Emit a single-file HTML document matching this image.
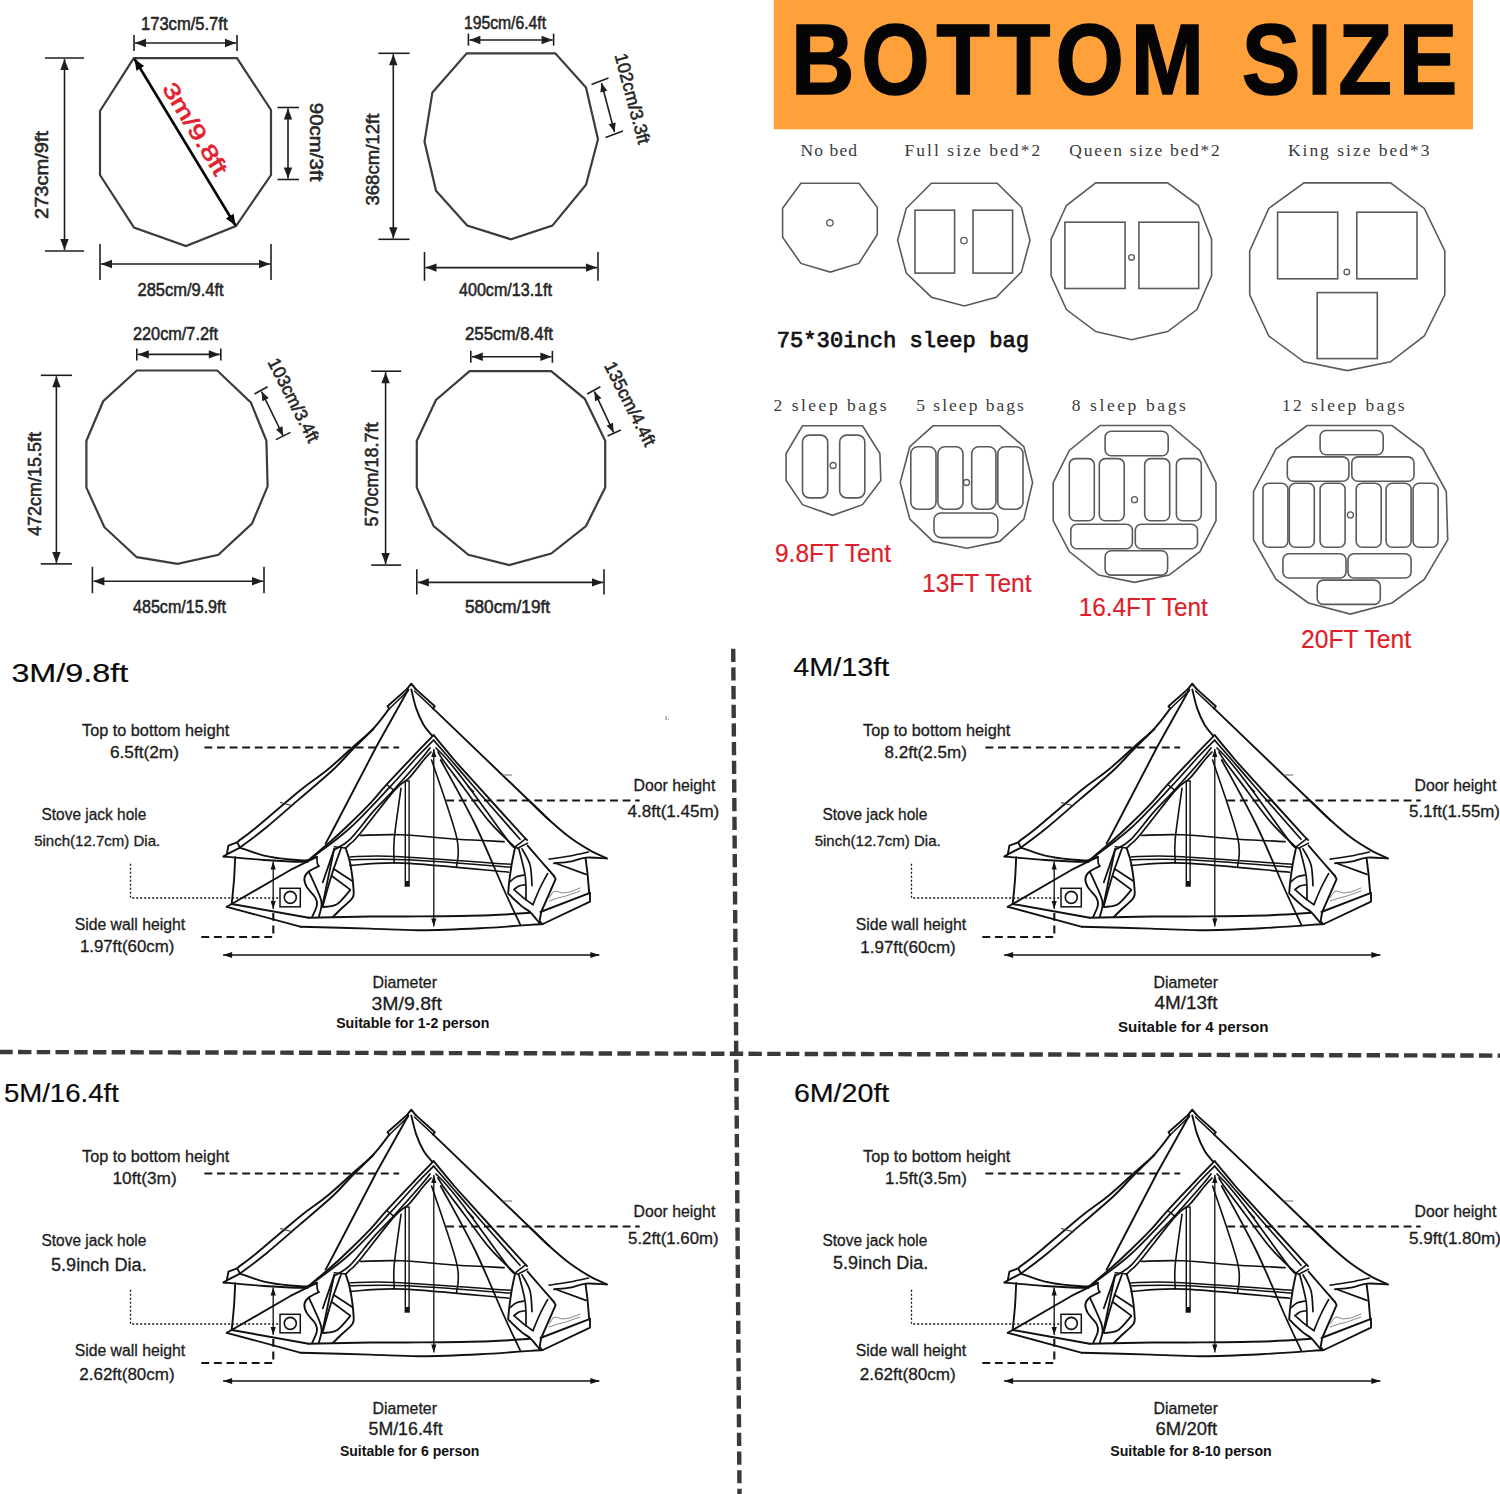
<!DOCTYPE html><html><head><meta charset="utf-8"><style>html,body{margin:0;padding:0;background:#fff;}svg{display:block;}</style></head><body>
<svg width="1500" height="1494" viewBox="0 0 1500 1494">
<rect width="1500" height="1494" fill="#fff"/>
<g fill="none" stroke-linejoin="miter">
<polygon points="133.8,58.2 237.0,58.2 271.0,110.0 271.0,175.0 236.0,226.0 186.0,246.0 134.0,227.5 100.0,175.0 100.0,111.0" stroke="#3c3c3c" stroke-width="2.2" fill="none"/>
<polygon points="466.7,53.3 555.3,53.3 586.0,87.6 598.0,139.2 586.0,184.8 552.4,225.6 510.9,239.3 467.2,225.6 436.0,190.8 424.5,141.6 432.4,92.4" stroke="#3c3c3c" stroke-width="2.2" fill="none"/>
<polygon points="136.8,370.5 217.2,370.5 250.8,402.4 266.4,440.8 267.6,486.4 252.0,523.6 218.4,554.8 177.6,563.9 136.8,557.2 104.4,527.2 86.4,487.6 86.4,440.8 103.2,401.2" stroke="#3c3c3c" stroke-width="2.2" fill="none"/>
<polygon points="469.6,371.2 551.2,371.2 584.8,398.8 605.2,440.8 605.2,487.6 586.0,526.0 551.2,553.6 509.2,565.1 468.4,554.8 433.6,526.0 416.8,487.6 416.8,440.8 436.0,400.0" stroke="#3c3c3c" stroke-width="2.2" fill="none"/>
</g>
<line x1="135" y1="43" x2="236" y2="43" stroke="#1e1e1e" stroke-width="1.6"/><polygon points="236.0,43.0 225.0,47.2 225.0,38.8" fill="#1e1e1e"/><polygon points="135.0,43.0 146.0,38.8 146.0,47.2" fill="#1e1e1e"/><line x1="134.0" y1="35.0" x2="134.0" y2="51.0" stroke="#1e1e1e" stroke-width="1.6" /><line x1="237.0" y1="35.0" x2="237.0" y2="51.0" stroke="#1e1e1e" stroke-width="1.6" />
<text x="141.0" y="30.0" font-size="18" font-family="Liberation Sans" font-weight="normal" fill="#262626" stroke="#262626" stroke-width="0.55" textLength="86.5" lengthAdjust="spacingAndGlyphs" >173cm/5.7ft</text>
<line x1="64.5" y1="59" x2="64.5" y2="250" stroke="#1e1e1e" stroke-width="1.6"/><polygon points="64.5,250.0 60.3,239.0 68.7,239.0" fill="#1e1e1e"/><polygon points="64.5,59.0 68.7,70.0 60.3,70.0" fill="#1e1e1e"/><line x1="45.0" y1="58.0" x2="84.0" y2="58.0" stroke="#1e1e1e" stroke-width="1.6" /><line x1="45.0" y1="251.0" x2="84.0" y2="251.0" stroke="#1e1e1e" stroke-width="1.6" />
<g transform="translate(41.5,175.0) rotate(-90)"><text x="-44.0" y="6.5" font-size="18" font-family="Liberation Sans" font-weight="normal" fill="#262626" stroke="#262626" stroke-width="0.55" textLength="88.0" lengthAdjust="spacingAndGlyphs">273cm/9ft</text></g>
<line x1="288" y1="108.5" x2="288" y2="178.5" stroke="#1e1e1e" stroke-width="1.6"/><polygon points="288.0,178.5 283.8,167.5 292.2,167.5" fill="#1e1e1e"/><polygon points="288.0,108.5 292.2,119.5 283.8,119.5" fill="#1e1e1e"/><line x1="277.5" y1="107.5" x2="299.0" y2="107.5" stroke="#1e1e1e" stroke-width="1.6" /><line x1="277.5" y1="179.5" x2="299.0" y2="179.5" stroke="#1e1e1e" stroke-width="1.6" />
<g transform="translate(316.0,142.0) rotate(90)"><text x="-39.2" y="6.5" font-size="18" font-family="Liberation Sans" font-weight="normal" fill="#262626" stroke="#262626" stroke-width="0.55" textLength="78.5" lengthAdjust="spacingAndGlyphs">90cm/3ft</text></g>
<line x1="101" y1="264" x2="270" y2="264" stroke="#1e1e1e" stroke-width="1.6"/><polygon points="270.0,264.0 259.0,268.2 259.0,259.8" fill="#1e1e1e"/><polygon points="101.0,264.0 112.0,259.8 112.0,268.2" fill="#1e1e1e"/><line x1="100.0" y1="244.0" x2="100.0" y2="280.0" stroke="#1e1e1e" stroke-width="1.6" /><line x1="271.0" y1="244.0" x2="271.0" y2="280.0" stroke="#1e1e1e" stroke-width="1.6" />
<text x="137.5" y="296.0" font-size="18" font-family="Liberation Sans" font-weight="normal" fill="#262626" stroke="#262626" stroke-width="0.55" textLength="86.2" lengthAdjust="spacingAndGlyphs" >285cm/9.4ft</text>
<line x1="134.5" y1="59" x2="235.5" y2="225.5" stroke="#050505" stroke-width="2.6"/><polygon points="235.5,225.5 225.9,218.4 233.6,213.8" fill="#050505"/><polygon points="134.5,59.0 144.1,66.1 136.4,70.7" fill="#050505"/>
<g transform="translate(195.5,128.5) rotate(58.7)"><text x="-52.0" y="7.9" font-size="22" font-family="Liberation Sans" font-weight="normal" fill="#e3202c" stroke="#e3202c" stroke-width="0.7" textLength="104.0" lengthAdjust="spacingAndGlyphs">3m/9.8ft</text></g>
<line x1="469.4" y1="40" x2="552.6" y2="40" stroke="#1e1e1e" stroke-width="1.6"/><polygon points="552.6,40.0 541.6,44.2 541.6,35.8" fill="#1e1e1e"/><polygon points="469.4,40.0 480.4,35.8 480.4,44.2" fill="#1e1e1e"/><line x1="468.4" y1="33.6" x2="468.4" y2="45.6" stroke="#1e1e1e" stroke-width="1.6" /><line x1="553.6" y1="33.6" x2="553.6" y2="45.6" stroke="#1e1e1e" stroke-width="1.6" />
<text x="464.0" y="28.5" font-size="18" font-family="Liberation Sans" font-weight="normal" fill="#262626" stroke="#262626" stroke-width="0.55" textLength="82.0" lengthAdjust="spacingAndGlyphs" >195cm/6.4ft</text>
<line x1="393.3" y1="54.3" x2="393.3" y2="238.3" stroke="#1e1e1e" stroke-width="1.6"/><polygon points="393.3,238.3 389.1,227.3 397.5,227.3" fill="#1e1e1e"/><polygon points="393.3,54.3 397.5,65.3 389.1,65.3" fill="#1e1e1e"/><line x1="378.4" y1="53.3" x2="409.6" y2="53.3" stroke="#1e1e1e" stroke-width="1.6" /><line x1="378.4" y1="239.3" x2="409.6" y2="239.3" stroke="#1e1e1e" stroke-width="1.6" />
<g transform="translate(372.4,159.6) rotate(-90)"><text x="-46.0" y="6.5" font-size="18" font-family="Liberation Sans" font-weight="normal" fill="#262626" stroke="#262626" stroke-width="0.55" textLength="92.0" lengthAdjust="spacingAndGlyphs">368cm/12ft</text></g>
<text x="459.0" y="296.0" font-size="18" font-family="Liberation Sans" font-weight="normal" fill="#262626" stroke="#262626" stroke-width="0.55" textLength="93.0" lengthAdjust="spacingAndGlyphs" >400cm/13.1ft</text>
<line x1="425.5" y1="267.6" x2="597" y2="267.6" stroke="#1e1e1e" stroke-width="1.6"/><polygon points="597.0,267.6 586.0,271.8 586.0,263.4" fill="#1e1e1e"/><polygon points="425.5,267.6 436.5,263.4 436.5,271.8" fill="#1e1e1e"/><line x1="424.5" y1="252.0" x2="424.5" y2="280.8" stroke="#1e1e1e" stroke-width="1.6" /><line x1="598.0" y1="252.0" x2="598.0" y2="280.8" stroke="#1e1e1e" stroke-width="1.6" />
<line x1="601.5" y1="83" x2="614.5" y2="132" stroke="#1e1e1e" stroke-width="1.6"/><polygon points="614.5,132.0 608.7,124.2 615.7,122.4" fill="#1e1e1e"/><polygon points="601.5,83.0 607.3,90.8 600.3,92.6" fill="#1e1e1e"/>
<line x1="591.5" y1="84.5" x2="608.5" y2="78.0" stroke="#1e1e1e" stroke-width="1.6" />
<line x1="605.5" y1="137.5" x2="623.0" y2="131.0" stroke="#1e1e1e" stroke-width="1.6" />
<g transform="translate(632.8,98.4) rotate(75)"><text x="-46.5" y="6.5" font-size="18" font-family="Liberation Sans" font-weight="normal" fill="#262626" stroke="#262626" stroke-width="0.55" textLength="93.0" lengthAdjust="spacingAndGlyphs">102cm/3.3ft</text></g>
<line x1="137.8" y1="354.4" x2="219.8" y2="354.4" stroke="#1e1e1e" stroke-width="1.6"/><polygon points="219.8,354.4 208.8,358.6 208.8,350.2" fill="#1e1e1e"/><polygon points="137.8,354.4 148.8,350.2 148.8,358.6" fill="#1e1e1e"/><line x1="136.8" y1="348.4" x2="136.8" y2="360.4" stroke="#1e1e1e" stroke-width="1.6" /><line x1="220.8" y1="348.4" x2="220.8" y2="360.4" stroke="#1e1e1e" stroke-width="1.6" />
<text x="133.0" y="339.5" font-size="18" font-family="Liberation Sans" font-weight="normal" fill="#262626" stroke="#262626" stroke-width="0.55" textLength="85.0" lengthAdjust="spacingAndGlyphs" >220cm/7.2ft</text>
<line x1="56.4" y1="376.3" x2="56.4" y2="562.9" stroke="#1e1e1e" stroke-width="1.6"/><polygon points="56.4,562.9 52.2,551.9 60.6,551.9" fill="#1e1e1e"/><polygon points="56.4,376.3 60.6,387.3 52.2,387.3" fill="#1e1e1e"/><line x1="40.8" y1="375.3" x2="72.0" y2="375.3" stroke="#1e1e1e" stroke-width="1.6" /><line x1="40.8" y1="563.9" x2="72.0" y2="563.9" stroke="#1e1e1e" stroke-width="1.6" />
<g transform="translate(34.8,484.0) rotate(-90)"><text x="-52.0" y="6.5" font-size="18" font-family="Liberation Sans" font-weight="normal" fill="#262626" stroke="#262626" stroke-width="0.55" textLength="104.0" lengthAdjust="spacingAndGlyphs">472cm/15.5ft</text></g>
<line x1="93.4" y1="581.2" x2="263" y2="581.2" stroke="#1e1e1e" stroke-width="1.6"/><polygon points="263.0,581.2 252.0,585.4 252.0,577.0" fill="#1e1e1e"/><polygon points="93.4,581.2 104.4,577.0 104.4,585.4" fill="#1e1e1e"/><line x1="92.4" y1="566.8" x2="92.4" y2="593.2" stroke="#1e1e1e" stroke-width="1.6" /><line x1="264.0" y1="566.8" x2="264.0" y2="593.2" stroke="#1e1e1e" stroke-width="1.6" />
<text x="133.0" y="613.0" font-size="18" font-family="Liberation Sans" font-weight="normal" fill="#262626" stroke="#262626" stroke-width="0.55" textLength="93.0" lengthAdjust="spacingAndGlyphs" >485cm/15.9ft</text>
<line x1="261.6" y1="391.6" x2="283.2" y2="436" stroke="#1e1e1e" stroke-width="1.6"/><polygon points="283.2,436.0 276.0,429.5 282.5,426.3" fill="#1e1e1e"/><polygon points="261.6,391.6 268.8,398.1 262.3,401.3" fill="#1e1e1e"/>
<line x1="254.4" y1="394.0" x2="267.6" y2="386.8" stroke="#1e1e1e" stroke-width="1.6" />
<line x1="276.0" y1="439.6" x2="290.4" y2="432.4" stroke="#1e1e1e" stroke-width="1.6" />
<g transform="translate(294.0,400.0) rotate(63)"><text x="-46.0" y="6.5" font-size="18" font-family="Liberation Sans" font-weight="normal" fill="#262626" stroke="#262626" stroke-width="0.55" textLength="92.0" lengthAdjust="spacingAndGlyphs">103cm/3.4ft</text></g>
<line x1="471.8" y1="356.8" x2="551.4" y2="356.8" stroke="#1e1e1e" stroke-width="1.6"/><polygon points="551.4,356.8 540.4,361.0 540.4,352.6" fill="#1e1e1e"/><polygon points="471.8,356.8 482.8,352.6 482.8,361.0" fill="#1e1e1e"/><line x1="470.8" y1="350.8" x2="470.8" y2="362.8" stroke="#1e1e1e" stroke-width="1.6" /><line x1="552.4" y1="350.8" x2="552.4" y2="362.8" stroke="#1e1e1e" stroke-width="1.6" />
<text x="465.0" y="339.5" font-size="18" font-family="Liberation Sans" font-weight="normal" fill="#262626" stroke="#262626" stroke-width="0.55" textLength="88.0" lengthAdjust="spacingAndGlyphs" >255cm/8.4ft</text>
<line x1="385.6" y1="372.2" x2="385.6" y2="564.1" stroke="#1e1e1e" stroke-width="1.6"/><polygon points="385.6,564.1 381.4,553.1 389.8,553.1" fill="#1e1e1e"/><polygon points="385.6,372.2 389.8,383.2 381.4,383.2" fill="#1e1e1e"/><line x1="371.2" y1="371.2" x2="401.2" y2="371.2" stroke="#1e1e1e" stroke-width="1.6" /><line x1="371.2" y1="565.1" x2="401.2" y2="565.1" stroke="#1e1e1e" stroke-width="1.6" />
<g transform="translate(371.2,474.4) rotate(-90)"><text x="-52.0" y="6.5" font-size="18" font-family="Liberation Sans" font-weight="normal" fill="#262626" stroke="#262626" stroke-width="0.55" textLength="104.0" lengthAdjust="spacingAndGlyphs">570cm/18.7ft</text></g>
<line x1="417.8" y1="582.4" x2="603" y2="582.4" stroke="#1e1e1e" stroke-width="1.6"/><polygon points="603.0,582.4 592.0,586.6 592.0,578.2" fill="#1e1e1e"/><polygon points="417.8,582.4 428.8,578.2 428.8,586.6" fill="#1e1e1e"/><line x1="416.8" y1="569.2" x2="416.8" y2="594.4" stroke="#1e1e1e" stroke-width="1.6" /><line x1="604.0" y1="569.2" x2="604.0" y2="594.4" stroke="#1e1e1e" stroke-width="1.6" />
<text x="465.0" y="613.0" font-size="18" font-family="Liberation Sans" font-weight="normal" fill="#262626" stroke="#262626" stroke-width="0.55" textLength="85.0" lengthAdjust="spacingAndGlyphs" >580cm/19ft</text>
<line x1="594.4" y1="391.6" x2="613.6" y2="432.4" stroke="#1e1e1e" stroke-width="1.6"/><polygon points="613.6,432.4 606.5,425.8 613.0,422.7" fill="#1e1e1e"/><polygon points="594.4,391.6 601.5,398.2 595.0,401.3" fill="#1e1e1e"/>
<line x1="587.2" y1="394.0" x2="600.4" y2="386.8" stroke="#1e1e1e" stroke-width="1.6" />
<line x1="607.6" y1="436.0" x2="620.8" y2="430.0" stroke="#1e1e1e" stroke-width="1.6" />
<g transform="translate(630.4,403.6) rotate(63)"><text x="-46.0" y="6.5" font-size="18" font-family="Liberation Sans" font-weight="normal" fill="#262626" stroke="#262626" stroke-width="0.55" textLength="92.0" lengthAdjust="spacingAndGlyphs">135cm/4.4ft</text></g>
<rect x="773.8" y="0" width="699.2" height="129.3" fill="#ffa13b"/>
<g transform="translate(791,94.3) scale(0.87,1)"><text x="0" y="0" font-size="101" font-family="Liberation Sans" font-weight="bold" fill="#050505" stroke="#050505" stroke-width="1.4" textLength="766" lengthAdjust="spacing">BOTTOM SIZE</text></g>
<text x="800.5" y="156.0" font-size="17.5" font-family="Liberation Serif" font-weight="normal" fill="#3a3a3a" textLength="56.5" lengthAdjust="spacing" >No bed</text>
<text x="904.5" y="156.0" font-size="17.5" font-family="Liberation Serif" font-weight="normal" fill="#3a3a3a" textLength="135.7" lengthAdjust="spacing" >Full size bed*2</text>
<text x="1069.3" y="156.0" font-size="17.5" font-family="Liberation Serif" font-weight="normal" fill="#3a3a3a" textLength="150.5" lengthAdjust="spacing" >Queen size bed*2</text>
<text x="1287.9" y="156.0" font-size="17.5" font-family="Liberation Serif" font-weight="normal" fill="#3a3a3a" textLength="141.6" lengthAdjust="spacing" >King size bed*3</text>
<polygon points="800.9,183.2 858.9,183.2 877.3,207.3 877.3,234.4 858.9,263.4 830.3,272.1 800.9,263.4 782.6,237.3 782.6,208.3" stroke="#5a5a5a" stroke-width="1.6" fill="none"/><circle cx="829.9" cy="222.8" r="3.2" fill="none" stroke="#5a5a5a" stroke-width="1.3"/>
<polygon points="931.4,183.2 997.2,183.2 1021.4,207.3 1030.0,240.2 1021.4,272.1 996.2,297.2 964.3,306.0 931.4,297.2 906.3,273.1 897.6,240.2 906.3,208.3" stroke="#5a5a5a" stroke-width="1.6" fill="none"/><rect x="915.0" y="210.2" width="39.6" height="62.9" rx="0" fill="none" stroke="#5a5a5a" stroke-width="1.6"/><rect x="973.0" y="210.2" width="39.6" height="62.9" rx="0" fill="none" stroke="#5a5a5a" stroke-width="1.6"/><circle cx="963.9" cy="240.6" r="3.2" fill="none" stroke="#5a5a5a" stroke-width="1.3"/>
<polygon points="1095.7,182.9 1167.6,182.9 1198.4,205.5 1211.6,239.2 1211.6,275.9 1196.9,309.6 1167.6,331.6 1131.5,339.8 1095.7,331.6 1066.4,309.6 1051.1,275.9 1051.1,239.2 1066.4,205.5" stroke="#5a5a5a" stroke-width="1.6" fill="none"/><rect x="1064.9" y="222.2" width="60.2" height="66.3" rx="0" fill="none" stroke="#5a5a5a" stroke-width="1.6"/><rect x="1138.9" y="222.2" width="59.8" height="66.3" rx="0" fill="none" stroke="#5a5a5a" stroke-width="1.6"/><circle cx="1131.5" cy="257.4" r="2.8" fill="none" stroke="#5a5a5a" stroke-width="1.3"/>
<polygon points="1304.0,182.9 1390.5,182.9 1424.3,208.4 1444.8,250.9 1444.8,294.9 1424.3,336.0 1390.5,361.8 1347.4,370.6 1304.0,361.8 1268.8,336.0 1249.7,294.9 1249.7,250.9 1268.8,208.4" stroke="#5a5a5a" stroke-width="1.6" fill="none"/><rect x="1277.6" y="212.2" width="60.1" height="66.6" rx="0" fill="none" stroke="#5a5a5a" stroke-width="1.6"/><rect x="1356.8" y="212.2" width="60.2" height="66.6" rx="0" fill="none" stroke="#5a5a5a" stroke-width="1.6"/><rect x="1317.2" y="292.6" width="60.1" height="66.0" rx="0" fill="none" stroke="#5a5a5a" stroke-width="1.6"/><circle cx="1346.8" cy="272.0" r="2.8" fill="none" stroke="#5a5a5a" stroke-width="1.3"/>
<text x="776.8" y="346.5" font-size="22.5" font-family="Liberation Mono" font-weight="normal" fill="#111" stroke="#111" stroke-width="0.75" textLength="252.2" lengthAdjust="spacingAndGlyphs" >75*30inch sleep bag</text>
<text x="773.5" y="411.0" font-size="17.5" font-family="Liberation Serif" font-weight="normal" fill="#3a3a3a" textLength="113.1" lengthAdjust="spacing" >2 sleep bags</text>
<text x="916.2" y="411.0" font-size="17.5" font-family="Liberation Serif" font-weight="normal" fill="#3a3a3a" textLength="107.7" lengthAdjust="spacing" >5 sleep bags</text>
<text x="1071.7" y="411.0" font-size="17.5" font-family="Liberation Serif" font-weight="normal" fill="#3a3a3a" textLength="114.1" lengthAdjust="spacing" >8 sleep bags</text>
<text x="1282.0" y="411.0" font-size="17.5" font-family="Liberation Serif" font-weight="normal" fill="#3a3a3a" textLength="122.6" lengthAdjust="spacing" >12 sleep bags</text>
<polygon points="802.5,425.8 862.5,425.8 879.9,453.5 880.8,480.5 862.5,504.7 832.5,515.3 802.5,504.7 786.1,480.5 786.1,453.5" stroke="#5a5a5a" stroke-width="1.6" fill="none"/><rect x="802.5" y="435.1" width="25.2" height="62.8" rx="7" fill="none" stroke="#5a5a5a" stroke-width="1.6"/><rect x="839.7" y="435.1" width="25.1" height="62.8" rx="7" fill="none" stroke="#5a5a5a" stroke-width="1.6"/><circle cx="833.1" cy="465.5" r="3" fill="none" stroke="#5a5a5a" stroke-width="1.3"/>
<polygon points="933.0,425.8 999.8,425.8 1023.9,446.7 1032.6,482.5 1023.9,519.2 999.8,541.4 966.9,548.2 933.0,541.4 909.8,519.2 900.2,482.5 909.8,446.7" stroke="#5a5a5a" stroke-width="1.6" fill="none"/><rect x="910.8" y="446.7" width="25.2" height="62.5" rx="7" fill="none" stroke="#5a5a5a" stroke-width="1.6"/><rect x="937.9" y="446.7" width="25.1" height="62.5" rx="7" fill="none" stroke="#5a5a5a" stroke-width="1.6"/><rect x="971.7" y="446.7" width="24.2" height="62.5" rx="7" fill="none" stroke="#5a5a5a" stroke-width="1.6"/><rect x="997.8" y="446.7" width="25.2" height="62.5" rx="7" fill="none" stroke="#5a5a5a" stroke-width="1.6"/><rect x="934.0" y="513.0" width="63.8" height="24.6" rx="7" fill="none" stroke="#5a5a5a" stroke-width="1.6"/><circle cx="966.5" cy="482.5" r="3" fill="none" stroke="#5a5a5a" stroke-width="1.3"/>
<polygon points="1100.1,425.5 1170.5,425.5 1199.9,450.4 1216.0,482.7 1216.0,520.8 1199.9,551.6 1169.1,575.1 1134.5,582.4 1098.7,575.1 1069.3,551.6 1053.2,520.8 1053.2,482.7 1069.3,450.4" stroke="#5a5a5a" stroke-width="1.6" fill="none"/><rect x="1105.1" y="431.3" width="63.1" height="24.4" rx="6" fill="none" stroke="#5a5a5a" stroke-width="1.6"/><rect x="1069.3" y="458.6" width="25.0" height="62.2" rx="6" fill="none" stroke="#5a5a5a" stroke-width="1.6"/><rect x="1099.3" y="458.6" width="24.9" height="62.2" rx="6" fill="none" stroke="#5a5a5a" stroke-width="1.6"/><rect x="1144.7" y="458.6" width="25.0" height="62.2" rx="6" fill="none" stroke="#5a5a5a" stroke-width="1.6"/><rect x="1176.4" y="458.6" width="24.9" height="62.2" rx="6" fill="none" stroke="#5a5a5a" stroke-width="1.6"/><rect x="1070.8" y="524.3" width="61.6" height="24.4" rx="6" fill="none" stroke="#5a5a5a" stroke-width="1.6"/><rect x="1135.3" y="524.3" width="62.2" height="24.4" rx="6" fill="none" stroke="#5a5a5a" stroke-width="1.6"/><rect x="1105.1" y="550.7" width="62.5" height="24.4" rx="6" fill="none" stroke="#5a5a5a" stroke-width="1.6"/><circle cx="1134.5" cy="499.7" r="3" fill="none" stroke="#5a5a5a" stroke-width="1.3"/>
<polygon points="1307.0,425.5 1392.0,425.5 1422.8,448.9 1446.3,491.5 1447.7,539.9 1424.3,579.5 1392.0,602.9 1350.4,614.1 1308.4,602.9 1276.1,579.5 1253.5,539.9 1253.5,491.5 1276.1,448.9" stroke="#5a5a5a" stroke-width="1.6" fill="none"/><rect x="1320.1" y="430.5" width="63.1" height="24.3" rx="6" fill="none" stroke="#5a5a5a" stroke-width="1.6"/><rect x="1287.3" y="456.9" width="61.6" height="24.3" rx="6" fill="none" stroke="#5a5a5a" stroke-width="1.6"/><rect x="1351.8" y="456.9" width="62.2" height="24.3" rx="6" fill="none" stroke="#5a5a5a" stroke-width="1.6"/><rect x="1262.9" y="483.3" width="25.0" height="63.9" rx="6" fill="none" stroke="#5a5a5a" stroke-width="1.6"/><rect x="1289.3" y="483.3" width="25.0" height="63.9" rx="6" fill="none" stroke="#5a5a5a" stroke-width="1.6"/><rect x="1320.1" y="483.3" width="25.0" height="63.9" rx="6" fill="none" stroke="#5a5a5a" stroke-width="1.6"/><rect x="1356.2" y="483.3" width="25.0" height="63.9" rx="6" fill="none" stroke="#5a5a5a" stroke-width="1.6"/><rect x="1386.1" y="483.3" width="25.0" height="63.9" rx="6" fill="none" stroke="#5a5a5a" stroke-width="1.6"/><rect x="1413.1" y="483.3" width="25.0" height="63.9" rx="6" fill="none" stroke="#5a5a5a" stroke-width="1.6"/><rect x="1282.9" y="553.7" width="63.1" height="24.3" rx="6" fill="none" stroke="#5a5a5a" stroke-width="1.6"/><rect x="1348.0" y="553.7" width="63.1" height="24.3" rx="6" fill="none" stroke="#5a5a5a" stroke-width="1.6"/><rect x="1317.2" y="580.1" width="63.1" height="24.3" rx="6" fill="none" stroke="#5a5a5a" stroke-width="1.6"/><circle cx="1350.4" cy="514.9" r="3" fill="none" stroke="#5a5a5a" stroke-width="1.3"/>
<text x="775.0" y="561.7" font-size="26" font-family="Liberation Sans" font-weight="normal" fill="#dc1f2b" stroke="#dc1f2b" stroke-width="0.2" textLength="116.0" lengthAdjust="spacingAndGlyphs" >9.8FT Tent</text>
<text x="922.0" y="591.7" font-size="26" font-family="Liberation Sans" font-weight="normal" fill="#dc1f2b" stroke="#dc1f2b" stroke-width="0.2" textLength="109.6" lengthAdjust="spacingAndGlyphs" >13FT Tent</text>
<text x="1078.7" y="616.1" font-size="26" font-family="Liberation Sans" font-weight="normal" fill="#dc1f2b" stroke="#dc1f2b" stroke-width="0.2" textLength="129.1" lengthAdjust="spacingAndGlyphs" >16.4FT Tent</text>
<text x="1301.1" y="648.4" font-size="26" font-family="Liberation Sans" font-weight="normal" fill="#dc1f2b" stroke="#dc1f2b" stroke-width="0.2" textLength="110.0" lengthAdjust="spacingAndGlyphs" >20FT Tent</text>
<text x="665" y="720" font-size="8" font-family="Liberation Sans" fill="#444">ı.</text>
<line x1="-0.7" y1="1052" x2="1500" y2="1055.6" stroke="#3a3a3a" stroke-width="4.4" stroke-dasharray="13.4 5.33"/>
<line x1="733.2" y1="646.7" x2="739.5" y2="1494" stroke="#3a3a3a" stroke-width="4.4" stroke-dasharray="13.2 5.47" stroke-dashoffset="-2.0"/>
<defs><g id="tent"><polyline points="407.1,688.9 411.3,683.7 415.5,688.9" fill="none" stroke="#111" stroke-width="2.0" stroke-linejoin="round" stroke-linecap="round"/><polyline points="407.1,688.9 387.5,706.3 389.3,708.7" fill="none" stroke="#111" stroke-width="1.9" stroke-linejoin="round" stroke-linecap="round"/><polyline points="408.3,690.5 389.3,708.7" fill="none" stroke="#111" stroke-width="1.5" stroke-linejoin="round" stroke-linecap="round"/><path d="M389.3,708.7 C386.6,712.0 379.3,722.4 373.3,728.7 C367.3,735.0 361.0,739.8 353.3,746.7 C345.6,753.6 336.1,762.7 327.2,770.0 C318.3,777.3 312.2,780.5 300.0,790.4 C287.8,800.3 264.1,821.0 254.0,829.3 C243.9,837.6 241.7,838.5 239.2,840.4" fill="none" stroke="#111" stroke-width="1.9" stroke-linejoin="round" stroke-linecap="round"/><polyline points="239.2,840.4 237.2,842.4 228.4,845.6 226.8,854.4 223.5,856.5" fill="none" stroke="#111" stroke-width="1.9" stroke-linejoin="round" stroke-linecap="round"/><path d="M373.5,729.0 C369.9,732.5 358.8,743.2 352.0,750.0 C345.2,756.8 341.5,761.9 332.8,770.0 C324.1,778.1 311.5,788.5 300.0,798.4 C288.5,808.3 274.0,821.1 264.0,829.3 C254.0,837.5 244.0,844.5 240.0,847.6" fill="none" stroke="#111" stroke-width="1.9" stroke-linejoin="round" stroke-linecap="round"/><polyline points="237.2,842.4 240.0,847.6" fill="none" stroke="#111" stroke-width="1.9" stroke-linejoin="round" stroke-linecap="round"/><polyline points="226.8,854.4 240.0,847.6" fill="none" stroke="#111" stroke-width="1.9" stroke-linejoin="round" stroke-linecap="round"/><polyline points="415.5,688.9 434.8,706.3 433.0,708.4" fill="none" stroke="#111" stroke-width="1.9" stroke-linejoin="round" stroke-linecap="round"/><polyline points="414.5,691.0 433.0,708.4" fill="none" stroke="#111" stroke-width="1.5" stroke-linejoin="round" stroke-linecap="round"/><polyline points="433.0,708.4 549.2,820.0" fill="none" stroke="#111" stroke-width="1.9" stroke-linejoin="round" stroke-linecap="round"/><path d="M530.0,801.5 C533.2,804.6 542.5,814.0 549.2,820.0 C555.9,826.0 563.2,832.5 570.0,837.6 C576.8,842.7 583.9,846.9 590.0,850.4 C596.1,853.9 604.0,857.1 606.8,858.4" fill="none" stroke="#111" stroke-width="1.9" stroke-linejoin="round" stroke-linecap="round"/><path d="M606.8,858.4 C603.3,858.3 592.1,857.1 586.0,857.6 C579.9,858.1 575.3,860.7 570.0,861.6 C564.7,862.5 556.7,862.9 554.0,863.2" fill="none" stroke="#111" stroke-width="1.9" stroke-linejoin="round" stroke-linecap="round"/><path d="M549.2,859.2 C552.7,858.7 563.5,857.2 570.0,856.0 C576.5,854.8 585.3,852.7 588.4,852.0" fill="none" stroke="#111" stroke-width="1.7" stroke-linejoin="round" stroke-linecap="round"/><polyline points="585.6,858.4 587.6,874.4 589.2,892.8" fill="none" stroke="#111" stroke-width="1.9" stroke-linejoin="round" stroke-linecap="round"/><polyline points="555.6,863.2 586.0,874.4" fill="none" stroke="#111" stroke-width="1.7" stroke-linejoin="round" stroke-linecap="round"/><polyline points="542.8,924.0 590.0,901.6 590.0,892.8 540.4,912.0" fill="none" stroke="#111" stroke-width="1.9" stroke-linejoin="round" stroke-linecap="round"/><polyline points="280.5,802.5 286.5,804.2 292.5,805.8" fill="none" stroke="#333" stroke-width="1.1" stroke-linejoin="round" stroke-linecap="round"/><path d="M411.3,689.5 C412.1,692.6 414.1,702.3 416.1,708.1 C418.1,713.9 420.8,719.9 423.4,724.4 C426.0,728.9 430.4,733.4 431.8,735.2" fill="none" stroke="#111" stroke-width="1.9" stroke-linejoin="round" stroke-linecap="round"/><polyline points="408.3,689.5 376.0,747.3 333.3,829.3 325.6,843.6" fill="none" stroke="#111" stroke-width="1.9" stroke-linejoin="round" stroke-linecap="round"/><path d="M433.6,735.2 C430.2,738.7 421.4,747.7 413.5,756.0 C405.6,764.3 393.5,777.0 386.3,784.9 C379.1,792.8 376.4,796.7 370.4,803.1 C364.3,809.5 356.7,817.0 350.0,823.5 C343.3,830.0 337.0,835.9 330.0,842.0 C323.0,848.1 311.7,857.3 308.0,860.4" fill="none" stroke="#111" stroke-width="1.9" stroke-linejoin="round" stroke-linecap="round"/><path d="M433.6,740.1 C431.0,742.8 425.3,748.1 418.0,756.0 C410.7,763.9 401.0,775.2 389.7,787.2 C378.4,799.2 362.8,816.3 350.0,828.0 C337.2,839.7 319.0,852.3 312.8,857.2" fill="none" stroke="#111" stroke-width="1.7" stroke-linejoin="round" stroke-linecap="round"/><path d="M430.0,748.0 C428.4,750.0 426.4,752.9 420.3,760.0 C414.2,767.1 401.0,781.9 393.1,790.6 C385.2,799.3 379.9,804.0 372.7,812.1 C365.5,820.2 356.4,833.0 350.0,839.3 C343.6,845.6 336.8,848.2 334.2,850.0" fill="none" stroke="#111" stroke-width="1.7" stroke-linejoin="round" stroke-linecap="round"/><path d="M431.0,752.0 C429.8,753.3 427.4,755.6 423.7,760.0 C420.0,764.4 413.8,773.0 408.9,778.1 C404.0,783.2 402.5,781.2 394.2,790.6 C385.9,800.0 366.5,825.9 359.1,834.8 C351.7,843.7 352.2,841.7 350.0,843.9 C347.8,846.1 346.3,847.4 345.6,848.1" fill="none" stroke="#111" stroke-width="1.7" stroke-linejoin="round" stroke-linecap="round"/><polyline points="387.4,785.0 394.2,790.6" fill="none" stroke="#111" stroke-width="1.4" stroke-linejoin="round" stroke-linecap="round"/><path d="M433.6,735.2 C437.1,739.3 447.5,752.1 454.3,760.0 C461.1,767.9 463.8,770.6 474.7,782.7 C485.6,794.8 511.3,823.1 520.0,832.6 C528.7,842.1 525.8,838.8 527.0,840.0" fill="none" stroke="#111" stroke-width="1.9" stroke-linejoin="round" stroke-linecap="round"/><path d="M433.6,740.1 C436.5,743.4 444.4,752.5 450.9,760.0 C457.4,767.5 460.9,771.8 472.4,785.0 C483.9,798.2 512.1,830.2 520.0,839.3" fill="none" stroke="#111" stroke-width="1.7" stroke-linejoin="round" stroke-linecap="round"/><path d="M436.0,748.0 C437.9,750.0 442.0,753.5 447.5,760.0 C453.0,766.5 458.8,773.6 469.0,787.2 C479.2,800.8 500.8,831.6 508.7,841.6 C516.6,851.6 515.3,846.3 516.6,847.3" fill="none" stroke="#111" stroke-width="1.7" stroke-linejoin="round" stroke-linecap="round"/><path d="M438.0,752.0 C438.8,753.3 438.8,754.1 443.0,760.0 C447.2,765.9 455.6,776.8 463.4,787.2 C471.2,797.6 481.4,812.4 490.0,822.4 C498.6,832.4 510.7,843.1 514.8,847.2" fill="none" stroke="#111" stroke-width="1.7" stroke-linejoin="round" stroke-linecap="round"/><polyline points="467.9,786.1 473.6,791.7" fill="none" stroke="#111" stroke-width="1.4" stroke-linejoin="round" stroke-linecap="round"/><polyline points="514.8,847.2 525.2,839.2" fill="none" stroke="#111" stroke-width="1.5" stroke-linejoin="round" stroke-linecap="round"/><polyline points="517.2,848.5 527.6,843.2" fill="none" stroke="#111" stroke-width="1.5" stroke-linejoin="round" stroke-linecap="round"/><path d="M514.8,848.8 C514.3,851.5 512.7,857.9 511.6,864.8 C510.5,871.7 508.7,885.3 508.4,890.4 C508.1,895.5 507.7,892.5 510.0,895.2 C512.3,897.9 518.7,903.6 522.0,906.4 C525.3,909.2 527.1,909.2 530.0,912.0 C532.9,914.8 538.0,921.3 539.6,923.2" fill="none" stroke="#111" stroke-width="1.9" stroke-linejoin="round" stroke-linecap="round"/><path d="M527.6,845.6 C529.7,848.0 535.6,854.9 540.0,860.0 C544.4,865.1 551.7,873.3 554.0,876.0" fill="none" stroke="#111" stroke-width="1.9" stroke-linejoin="round" stroke-linecap="round"/><polyline points="554.0,876.0 555.6,879.2 541.2,912.0 539.6,920.8 542.0,924.0" fill="none" stroke="#111" stroke-width="1.9" stroke-linejoin="round" stroke-linecap="round"/><path d="M518.8,848.8 C519.9,853.3 524.0,867.5 525.2,876.0 C526.4,884.5 525.9,896.0 526.0,900.0" fill="none" stroke="#111" stroke-width="1.7" stroke-linejoin="round" stroke-linecap="round"/><path d="M522.0,848.8 C523.3,851.5 528.3,858.7 530.0,864.8 C531.7,870.9 531.7,882.1 532.0,885.6" fill="none" stroke="#111" stroke-width="1.7" stroke-linejoin="round" stroke-linecap="round"/><path d="M510.0,881.6 C511.0,880.8 513.7,878.1 516.0,877.0 C518.3,875.9 522.3,875.5 523.6,875.2" fill="none" stroke="#111" stroke-width="1.7" stroke-linejoin="round" stroke-linecap="round"/><path d="M514.0,889.6 C514.8,889.0 517.3,886.8 519.0,886.0 C520.7,885.2 523.5,885.0 524.4,884.8" fill="none" stroke="#111" stroke-width="1.7" stroke-linejoin="round" stroke-linecap="round"/><path d="M514.0,889.6 C515.9,891.2 522.0,896.7 525.2,899.2 C528.4,901.7 531.9,903.9 533.2,904.8" fill="none" stroke="#111" stroke-width="1.7" stroke-linejoin="round" stroke-linecap="round"/><path d="M533.2,904.0 C534.3,901.3 537.6,893.1 540.0,888.0 C542.4,882.9 546.3,876.0 547.6,873.6" fill="none" stroke="#111" stroke-width="1.7" stroke-linejoin="round" stroke-linecap="round"/><path d="M318.8,866.1 C317.1,867.0 311.1,869.5 308.7,871.5 C306.3,873.5 304.7,875.6 304.4,878.2 C304.1,880.8 304.9,883.7 306.7,886.9 C308.5,890.1 313.7,894.5 315.4,897.6 C317.1,900.7 317.4,902.4 316.8,905.6 C316.2,908.8 312.9,915.1 312.1,917.0" fill="none" stroke="#111" stroke-width="1.9" stroke-linejoin="round" stroke-linecap="round"/><path d="M309.4,872.8 C311.2,876.8 318.1,891.4 320.1,896.9 C322.1,902.4 321.7,902.2 321.5,905.6 C321.3,909.0 319.2,915.1 318.8,917.0" fill="none" stroke="#111" stroke-width="1.8" stroke-linejoin="round" stroke-linecap="round"/><polyline points="334.2,848.7 322.1,907.0" fill="none" stroke="#111" stroke-width="1.8" stroke-linejoin="round" stroke-linecap="round"/><path d="M340.9,848.7 C339.3,853.2 334.5,866.0 331.5,875.5 C328.5,885.0 324.2,900.9 322.8,906.0" fill="none" stroke="#111" stroke-width="1.8" stroke-linejoin="round" stroke-linecap="round"/><path d="M345.6,848.1 C346.4,850.7 348.9,856.5 350.2,863.5 C351.5,870.5 353.3,884.4 353.6,890.2 C353.9,896.0 354.3,895.2 352.2,898.3 C350.1,901.4 344.1,905.9 340.9,909.0 C337.7,912.1 334.1,915.7 332.8,917.0" fill="none" stroke="#111" stroke-width="1.9" stroke-linejoin="round" stroke-linecap="round"/><polyline points="333.5,868.8 352.2,880.9" fill="none" stroke="#111" stroke-width="1.8" stroke-linejoin="round" stroke-linecap="round"/><polyline points="332.2,876.2 350.2,889.6" fill="none" stroke="#111" stroke-width="1.8" stroke-linejoin="round" stroke-linecap="round"/><path d="M323.5,907.0 C325.7,906.5 332.4,907.1 336.9,904.3 C341.3,901.5 348.0,892.6 350.2,890.2" fill="none" stroke="#111" stroke-width="1.8" stroke-linejoin="round" stroke-linecap="round"/><polyline points="322.8,882.2 334.2,849.4" fill="none" stroke="#111" stroke-width="1.8" stroke-linejoin="round" stroke-linecap="round"/><path d="M316.8,856.8 C316.9,857.9 317.1,862.0 317.4,863.5 C317.7,865.0 318.6,865.7 318.8,866.1" fill="none" stroke="#111" stroke-width="1.7" stroke-linejoin="round" stroke-linecap="round"/><path d="M334.2,846.7 L345.6,848.1" fill="none" stroke="#111" stroke-width="1.5" stroke-linejoin="round" stroke-linecap="round"/><path d="M223.5,856.5 C230.2,857.1 252.9,859.2 264.0,860.0 C275.1,860.8 282.8,861.2 290.0,861.5 C297.2,861.8 304.5,861.9 307.4,862.0" fill="none" stroke="#111" stroke-width="1.8" stroke-linejoin="round" stroke-linecap="round"/><path d="M240.0,847.6 C244.0,848.9 255.7,853.6 264.0,855.6 C272.3,857.6 282.8,858.8 290.0,859.5 C297.2,860.2 302.9,860.6 307.4,860.1 C311.9,859.6 315.2,857.3 316.8,856.8" fill="none" stroke="#111" stroke-width="1.8" stroke-linejoin="round" stroke-linecap="round"/><path d="M235.2,857.1 C235.0,860.9 234.6,872.2 234.0,880.0 C233.4,887.8 232.1,900.0 231.7,904.0" fill="none" stroke="#111" stroke-width="1.9" stroke-linejoin="round" stroke-linecap="round"/><polyline points="226.8,906.8 231.7,904.0 290.0,870.2 316.8,856.8" fill="none" stroke="#111" stroke-width="1.9" stroke-linejoin="round" stroke-linecap="round"/><polyline points="226.8,906.8 301.0,926.8" fill="none" stroke="#111" stroke-width="1.9" stroke-linejoin="round" stroke-linecap="round"/><path d="M301.0,926.8 C312.5,927.1 350.2,928.0 370.0,928.6 C389.8,929.2 401.7,930.3 420.0,930.2 C438.3,930.1 459.5,929.2 480.0,928.2 C500.5,927.2 532.3,924.7 542.8,924.0" fill="none" stroke="#111" stroke-width="1.9" stroke-linejoin="round" stroke-linecap="round"/><polyline points="231.7,904.0 308.7,917.7" fill="none" stroke="#111" stroke-width="1.9" stroke-linejoin="round" stroke-linecap="round"/><path d="M308.7,917.7 C318.9,917.5 351.4,916.7 370.0,916.5 C388.6,916.3 400.0,916.6 420.0,916.4 C440.0,916.2 471.7,915.8 490.0,915.2 C508.3,914.6 523.3,913.2 530.0,912.8" fill="none" stroke="#111" stroke-width="1.9" stroke-linejoin="round" stroke-linecap="round"/><rect x="280" y="888.3" width="20.3" height="18.5" fill="none" stroke="#111" stroke-width="1.5"/><circle cx="290.3" cy="897.4" r="6" fill="none" stroke="#111" stroke-width="1.6"/><path d="M360.2,835.4 C367.0,835.3 384.8,834.1 401.0,834.8 C417.2,835.4 440.5,838.2 457.7,839.3 C474.9,840.4 496.4,841.2 504.1,841.6" fill="none" stroke="#111" stroke-width="1.6" stroke-linejoin="round" stroke-linecap="round"/><path d="M350.0,856.9 C357.6,856.8 368.5,855.2 395.3,856.4 C422.1,857.6 491.7,863.0 511.0,864.3" fill="none" stroke="#111" stroke-width="1.5" stroke-linejoin="round" stroke-linecap="round"/><path d="M350.0,859.8 C359.4,859.8 379.9,858.6 406.7,859.8 C433.5,861.0 493.6,865.9 511.0,867.1" fill="none" stroke="#111" stroke-width="1.5" stroke-linejoin="round" stroke-linecap="round"/><path d="M350.0,865.4 C358.9,865.0 376.9,862.0 403.3,863.1 C429.8,864.2 491.1,870.7 508.7,872.2" fill="none" stroke="#111" stroke-width="1.6" stroke-linejoin="round" stroke-linecap="round"/><path d="M401.0,788.3 C399.9,796.8 395.3,826.8 394.2,839.3 C393.1,851.8 394.2,859.1 394.2,863.1" fill="none" stroke="#111" stroke-width="1.6" stroke-linejoin="round" stroke-linecap="round"/><path d="M431.6,760.0 C435.8,772.9 452.4,819.3 456.6,837.1 C460.8,854.9 456.6,861.7 456.6,866.6" fill="none" stroke="#111" stroke-width="1.6" stroke-linejoin="round" stroke-linecap="round"/><rect x="405.3" y="781" width="3.8" height="105" fill="none" stroke="#111" stroke-width="1.4"/><rect x="405.3" y="881" width="3.8" height="5" fill="#111"/><path d="M440.7,760.0 C446.4,770.6 464.1,801.8 474.7,823.5 C485.3,845.2 496.5,873.1 504.1,890.0 C511.7,906.9 517.7,919.0 520.4,924.8" fill="none" stroke="#111" stroke-width="1.8" stroke-linejoin="round" stroke-linecap="round"/><line x1="433.8" y1="749" x2="433.8" y2="926.4" stroke="#111" stroke-width="1.3"/><polygon points="433.8,926.4 431.2,918.4 436.4,918.4" fill="#111"/><polygon points="433.8,749.0 436.4,757.0 431.2,757.0" fill="#111"/><line x1="273.2" y1="861.5" x2="273.2" y2="909" stroke="#111" stroke-width="1.3"/><polygon points="273.2,909.0 270.6,901.0 275.8,901.0" fill="#111"/><polygon points="273.2,861.5 275.8,869.5 270.6,869.5" fill="#111"/><polyline points="549.0,898.0 553.0,892.0 556.0,891.0 562.0,893.0 570.0,892.0 580.0,888.0" fill="none" stroke="#8a8a8a" stroke-width="1.0" stroke-linejoin="round" stroke-linecap="round"/><polyline points="549.0,901.0 558.0,898.0 566.0,896.0 580.0,891.0" fill="none" stroke="#8a8a8a" stroke-width="1.0" stroke-linejoin="round" stroke-linecap="round"/><line x1="223.1" y1="955" x2="599.4" y2="955" stroke="#111" stroke-width="1.5"/><polygon points="599.4,955.0 590.4,958.0 590.4,952.0" fill="#111"/><polygon points="223.1,955.0 232.1,952.0 232.1,958.0" fill="#111"/><line x1="204.4" y1="747.5" x2="399.2" y2="747.5" stroke="#151515" stroke-width="2.1" stroke-dasharray="7.9 4.7"/><line x1="446.2" y1="800.5" x2="639.7" y2="800.5" stroke="#151515" stroke-width="2.1" stroke-dasharray="7.9 4.7"/><polyline points="201.3,937 273.3,937 273.3,909.6" fill="none" stroke="#151515" stroke-width="2.1" stroke-dasharray="7.9 4.7"/><polyline points="130.5,863.7 130.5,898 280,898" fill="none" stroke="#151515" stroke-width="1.3" stroke-dasharray="2 2"/><line x1="502.4" y1="775" x2="512.1" y2="775" stroke="#666" stroke-width="1"/></g></defs>
<use href="#tent"/>
<use href="#tent" transform="translate(781,0)"/>
<use href="#tent" transform="translate(0,426)"/>
<use href="#tent" transform="translate(781,426)"/>
<text x="11.4" y="682.2" font-size="26" font-family="Liberation Sans" font-weight="normal" fill="#0a0a0a" stroke="#0a0a0a" stroke-width="0.2" textLength="116.8" lengthAdjust="spacingAndGlyphs" >3M/9.8ft</text>
<text x="793.3" y="676.4" font-size="26" font-family="Liberation Sans" font-weight="normal" fill="#0a0a0a" stroke="#0a0a0a" stroke-width="0.2" textLength="96.0" lengthAdjust="spacingAndGlyphs" >4M/13ft</text>
<text x="3.9" y="1102.1" font-size="26" font-family="Liberation Sans" font-weight="normal" fill="#0a0a0a" stroke="#0a0a0a" stroke-width="0.2" textLength="115.0" lengthAdjust="spacingAndGlyphs" >5M/16.4ft</text>
<text x="793.9" y="1102.1" font-size="26" font-family="Liberation Sans" font-weight="normal" fill="#0a0a0a" stroke="#0a0a0a" stroke-width="0.2" textLength="95.4" lengthAdjust="spacingAndGlyphs" >6M/20ft</text>
<text x="82.0" y="736.1" font-size="16" font-family="Liberation Sans" font-weight="normal" fill="#1c1c1c" stroke="#1c1c1c" stroke-width="0.3" textLength="147.3" lengthAdjust="spacingAndGlyphs" >Top to bottom height</text><text x="41.5" y="820.2" font-size="16" font-family="Liberation Sans" font-weight="normal" fill="#1c1c1c" stroke="#1c1c1c" stroke-width="0.3" textLength="104.8" lengthAdjust="spacingAndGlyphs" >Stove jack hole</text><text x="74.7" y="930.1" font-size="16" font-family="Liberation Sans" font-weight="normal" fill="#1c1c1c" stroke="#1c1c1c" stroke-width="0.3" textLength="110.4" lengthAdjust="spacingAndGlyphs" >Side wall height</text><text x="633.6" y="790.6" font-size="16" font-family="Liberation Sans" font-weight="normal" fill="#1c1c1c" stroke="#1c1c1c" stroke-width="0.3" textLength="81.7" lengthAdjust="spacingAndGlyphs" >Door height</text><text x="372.5" y="987.8" font-size="17" font-family="Liberation Sans" font-weight="normal" fill="#1c1c1c" stroke="#1c1c1c" stroke-width="0.3" textLength="64.5" lengthAdjust="spacingAndGlyphs" >Diameter</text>
<text x="863.0" y="736.1" font-size="16" font-family="Liberation Sans" font-weight="normal" fill="#1c1c1c" stroke="#1c1c1c" stroke-width="0.3" textLength="147.3" lengthAdjust="spacingAndGlyphs" >Top to bottom height</text><text x="822.5" y="820.2" font-size="16" font-family="Liberation Sans" font-weight="normal" fill="#1c1c1c" stroke="#1c1c1c" stroke-width="0.3" textLength="104.8" lengthAdjust="spacingAndGlyphs" >Stove jack hole</text><text x="855.7" y="930.1" font-size="16" font-family="Liberation Sans" font-weight="normal" fill="#1c1c1c" stroke="#1c1c1c" stroke-width="0.3" textLength="110.4" lengthAdjust="spacingAndGlyphs" >Side wall height</text><text x="1414.6" y="790.6" font-size="16" font-family="Liberation Sans" font-weight="normal" fill="#1c1c1c" stroke="#1c1c1c" stroke-width="0.3" textLength="81.7" lengthAdjust="spacingAndGlyphs" >Door height</text><text x="1153.5" y="987.8" font-size="17" font-family="Liberation Sans" font-weight="normal" fill="#1c1c1c" stroke="#1c1c1c" stroke-width="0.3" textLength="64.5" lengthAdjust="spacingAndGlyphs" >Diameter</text>
<text x="82.0" y="1162.1" font-size="16" font-family="Liberation Sans" font-weight="normal" fill="#1c1c1c" stroke="#1c1c1c" stroke-width="0.3" textLength="147.3" lengthAdjust="spacingAndGlyphs" >Top to bottom height</text><text x="41.5" y="1246.2" font-size="16" font-family="Liberation Sans" font-weight="normal" fill="#1c1c1c" stroke="#1c1c1c" stroke-width="0.3" textLength="104.8" lengthAdjust="spacingAndGlyphs" >Stove jack hole</text><text x="74.7" y="1356.1" font-size="16" font-family="Liberation Sans" font-weight="normal" fill="#1c1c1c" stroke="#1c1c1c" stroke-width="0.3" textLength="110.4" lengthAdjust="spacingAndGlyphs" >Side wall height</text><text x="633.6" y="1216.6" font-size="16" font-family="Liberation Sans" font-weight="normal" fill="#1c1c1c" stroke="#1c1c1c" stroke-width="0.3" textLength="81.7" lengthAdjust="spacingAndGlyphs" >Door height</text><text x="372.5" y="1413.8" font-size="17" font-family="Liberation Sans" font-weight="normal" fill="#1c1c1c" stroke="#1c1c1c" stroke-width="0.3" textLength="64.5" lengthAdjust="spacingAndGlyphs" >Diameter</text>
<text x="863.0" y="1162.1" font-size="16" font-family="Liberation Sans" font-weight="normal" fill="#1c1c1c" stroke="#1c1c1c" stroke-width="0.3" textLength="147.3" lengthAdjust="spacingAndGlyphs" >Top to bottom height</text><text x="822.5" y="1246.2" font-size="16" font-family="Liberation Sans" font-weight="normal" fill="#1c1c1c" stroke="#1c1c1c" stroke-width="0.3" textLength="104.8" lengthAdjust="spacingAndGlyphs" >Stove jack hole</text><text x="855.7" y="1356.1" font-size="16" font-family="Liberation Sans" font-weight="normal" fill="#1c1c1c" stroke="#1c1c1c" stroke-width="0.3" textLength="110.4" lengthAdjust="spacingAndGlyphs" >Side wall height</text><text x="1414.6" y="1216.6" font-size="16" font-family="Liberation Sans" font-weight="normal" fill="#1c1c1c" stroke="#1c1c1c" stroke-width="0.3" textLength="81.7" lengthAdjust="spacingAndGlyphs" >Door height</text><text x="1153.5" y="1413.8" font-size="17" font-family="Liberation Sans" font-weight="normal" fill="#1c1c1c" stroke="#1c1c1c" stroke-width="0.3" textLength="64.5" lengthAdjust="spacingAndGlyphs" >Diameter</text>
<text x="110.0" y="757.9" font-size="16" font-family="Liberation Sans" font-weight="normal" fill="#1c1c1c" stroke="#1c1c1c" stroke-width="0.3" textLength="68.9" lengthAdjust="spacingAndGlyphs" >6.5ft(2m)</text>
<text x="34.2" y="845.5" font-size="14.5" font-family="Liberation Sans" font-weight="normal" fill="#1c1c1c" stroke="#1c1c1c" stroke-width="0.3" textLength="126.0" lengthAdjust="spacingAndGlyphs" >5inch(12.7cm) Dia.</text>
<text x="79.9" y="951.9" font-size="16" font-family="Liberation Sans" font-weight="normal" fill="#1c1c1c" stroke="#1c1c1c" stroke-width="0.3" textLength="94.4" lengthAdjust="spacingAndGlyphs" >1.97ft(60cm)</text>
<text x="627.6" y="817.4" font-size="16" font-family="Liberation Sans" font-weight="normal" fill="#1c1c1c" stroke="#1c1c1c" stroke-width="0.3" textLength="91.7" lengthAdjust="spacingAndGlyphs" >4.8ft(1.45m)</text>
<text x="371.5" y="1009.6" font-size="19" font-family="Liberation Sans" font-weight="normal" fill="#1c1c1c" stroke="#1c1c1c" stroke-width="0.3" textLength="70.4" lengthAdjust="spacingAndGlyphs" >3M/9.8ft</text>
<text x="336.2" y="1027.7" font-size="14" font-family="Liberation Sans" font-weight="bold" fill="#111" textLength="153.1" lengthAdjust="spacingAndGlyphs" >Suitable for 1-2 person</text>
<text x="884.5" y="757.8" font-size="16" font-family="Liberation Sans" font-weight="normal" fill="#1c1c1c" stroke="#1c1c1c" stroke-width="0.3" textLength="82.3" lengthAdjust="spacingAndGlyphs" >8.2ft(2.5m)</text>
<text x="814.7" y="845.7" font-size="14.5" font-family="Liberation Sans" font-weight="normal" fill="#1c1c1c" stroke="#1c1c1c" stroke-width="0.3" textLength="126.0" lengthAdjust="spacingAndGlyphs" >5inch(12.7cm) Dia.</text>
<text x="860.3" y="952.8" font-size="16" font-family="Liberation Sans" font-weight="normal" fill="#1c1c1c" stroke="#1c1c1c" stroke-width="0.3" textLength="95.4" lengthAdjust="spacingAndGlyphs" >1.97ft(60cm)</text>
<text x="1409.0" y="817.4" font-size="16" font-family="Liberation Sans" font-weight="normal" fill="#1c1c1c" stroke="#1c1c1c" stroke-width="0.3" textLength="91.0" lengthAdjust="spacingAndGlyphs" >5.1ft(1.55m)</text>
<text x="1154.5" y="1008.6" font-size="17.5" font-family="Liberation Sans" font-weight="normal" fill="#1c1c1c" stroke="#1c1c1c" stroke-width="0.3" textLength="63.0" lengthAdjust="spacingAndGlyphs" >4M/13ft</text>
<text x="1118.0" y="1031.5" font-size="14" font-family="Liberation Sans" font-weight="bold" fill="#111" textLength="150.4" lengthAdjust="spacingAndGlyphs" >Suitable for 4 person</text>
<text x="112.5" y="1183.5" font-size="16" font-family="Liberation Sans" font-weight="normal" fill="#1c1c1c" stroke="#1c1c1c" stroke-width="0.3" textLength="64.2" lengthAdjust="spacingAndGlyphs" >10ft(3m)</text>
<text x="51.0" y="1271.4" font-size="18" font-family="Liberation Sans" font-weight="normal" fill="#1c1c1c" stroke="#1c1c1c" stroke-width="0.3" textLength="95.7" lengthAdjust="spacingAndGlyphs" >5.9inch Dia.</text>
<text x="79.3" y="1379.6" font-size="16" font-family="Liberation Sans" font-weight="normal" fill="#1c1c1c" stroke="#1c1c1c" stroke-width="0.3" textLength="95.3" lengthAdjust="spacingAndGlyphs" >2.62ft(80cm)</text>
<text x="628.1" y="1244.4" font-size="16" font-family="Liberation Sans" font-weight="normal" fill="#1c1c1c" stroke="#1c1c1c" stroke-width="0.3" textLength="90.5" lengthAdjust="spacingAndGlyphs" >5.2ft(1.60m)</text>
<text x="368.5" y="1434.6" font-size="17.5" font-family="Liberation Sans" font-weight="normal" fill="#1c1c1c" stroke="#1c1c1c" stroke-width="0.3" textLength="74.1" lengthAdjust="spacingAndGlyphs" >5M/16.4ft</text>
<text x="339.9" y="1456.0" font-size="14" font-family="Liberation Sans" font-weight="bold" fill="#111" textLength="139.5" lengthAdjust="spacingAndGlyphs" >Suitable for 6 person</text>
<text x="885.0" y="1183.5" font-size="16" font-family="Liberation Sans" font-weight="normal" fill="#1c1c1c" stroke="#1c1c1c" stroke-width="0.3" textLength="81.8" lengthAdjust="spacingAndGlyphs" >1.5ft(3.5m)</text>
<text x="833.1" y="1269.2" font-size="18" font-family="Liberation Sans" font-weight="normal" fill="#1c1c1c" stroke="#1c1c1c" stroke-width="0.3" textLength="95.1" lengthAdjust="spacingAndGlyphs" >5.9inch Dia.</text>
<text x="859.7" y="1379.6" font-size="16" font-family="Liberation Sans" font-weight="normal" fill="#1c1c1c" stroke="#1c1c1c" stroke-width="0.3" textLength="96.0" lengthAdjust="spacingAndGlyphs" >2.62ft(80cm)</text>
<text x="1409.0" y="1244.4" font-size="16" font-family="Liberation Sans" font-weight="normal" fill="#1c1c1c" stroke="#1c1c1c" stroke-width="0.3" textLength="92.0" lengthAdjust="spacingAndGlyphs" >5.9ft(1.80m)</text>
<text x="1155.6" y="1434.9" font-size="17.5" font-family="Liberation Sans" font-weight="normal" fill="#1c1c1c" stroke="#1c1c1c" stroke-width="0.3" textLength="61.6" lengthAdjust="spacingAndGlyphs" >6M/20ft</text>
<text x="1110.2" y="1455.8" font-size="14" font-family="Liberation Sans" font-weight="bold" fill="#111" textLength="161.6" lengthAdjust="spacingAndGlyphs" >Suitable for 8-10 person</text>
</svg></body></html>
